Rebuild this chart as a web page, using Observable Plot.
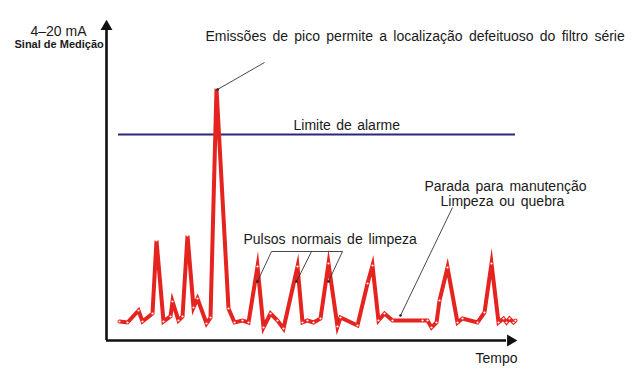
<!DOCTYPE html>
<html>
<head>
<meta charset="utf-8">
<script src="https://cdn.jsdelivr.net/npm/d3@7"></script>
<script src="https://cdn.jsdelivr.net/npm/@observablehq/plot@0.6"></script>
<style>
  html, body { margin: 0; padding: 0; background: #fff; }
  svg { display: block; }
  svg text { word-spacing: 2.2px; }
</style>
</head>
<body>
<div id="chart"></div>
<script>
// Signal trace (time units, signal units above the time axis)
const time   = [13,21,32,36,46,50,57,64,66,72,76,81,87,91,100,104,110,122,128,136,142,151,157,164,171,177,191,196,201,207,214,222,231,234,251,261,266,272,278,286,316,321,325,330,333,341,351,356,371,378,385,392,397,400,403,407,409];
const signal = [19,18,30,19,27,100,19,24,39,20,24,105,33,42,17,23,252,32,18,20,18,74,13,27,20,12,74,18,20,18,22,77,14,23,15,57,75,20,27,20,20,20,13,18,40,73,18,22,18,28,77,18,22,18,22,18,20];

const alarmLevel = 206;
const alarmStart = 12, alarmEnd = 409;

// Axis extents
const timeMax = 404, signalMax = 314;

// Labels
const labels = [
  {t: -76, s: 305, text: "4–20 mA", size: 14, weight: "normal", ws: 0},
  {t: -92, s: 293, text: "Sinal de Medição", size: 11, weight: "bold", ws: 0},
  {t: 99,  s: 300, text: "Emissões de pico permite a localização defeituoso do filtro série", size: 14, weight: "normal", ws: 2.4},
  {t: 187, s: 211, text: "Limite de alarme", size: 14, weight: "normal", ws: 1.5},
  {t: 318, s: 150, text: "Parada para manutenção", size: 14, weight: "normal", ws: 2},
  {t: 334, s: 135, text: "Limpeza ou quebra", size: 14, weight: "normal", ws: 2},
  {t: 137, s: 97,  text: "Pulsos normais de limpeza", size: 14, weight: "normal", ws: 2},
  {t: 369, s: -22, text: "Tempo", size: 14, weight: "normal", ws: 0}
];

// Leader lines
const leaders = [
  {t1: 158, s1: 278, t2: 111, s2: 251},
  {t1: 165, s1: 89,  t2: 236, s2: 89, nodot: true},
  {t1: 165, s1: 89,  t2: 151, s2: 59},
  {t1: 205, s1: 89,  t2: 190, s2: 59},
  {t1: 236, s1: 89,  t2: 222, s2: 59},
  {t1: 346, s1: 133, t2: 294, s2: 25}
];

const trace = time.map((t, i) => ({t, s: signal[i]}));

const marks = [
  Plot.ruleY([alarmLevel], {x1: alarmStart, x2: alarmEnd, stroke: "#2b2878", strokeWidth: 2}),
  Plot.line(trace, {x: "t", y: "s", stroke: "#e5231f", strokeWidth: 4, strokeLinejoin: "miter", strokeMiterlimit: 10}),
  Plot.dot(trace, {x: "t", y: "s", r: 1.1, fill: "#fff", stroke: null}),
  Plot.link(leaders, {x1: "t1", y1: "s1", x2: "t2", y2: "s2", stroke: "#333", strokeWidth: 0.9}),
  Plot.dot(leaders.filter(d => !d.nodot), {x: "t2", y: "s2", r: 1.3, fill: "#222", stroke: null}),
  Plot.ruleX([0], {y1: 0, y2: signalMax - 4, stroke: "#111", strokeWidth: 2.6}),
  Plot.ruleY([0], {x1: 0, x2: timeMax - 4, stroke: "#111", strokeWidth: 2.6}),
  Plot.dot([{t: 0, s: signalMax}], {x: "t", y: "s", symbol: "triangle", r: 4.4, fill: "#111", stroke: null}),
  Plot.dot([{t: timeMax, s: 0}], {x: "t", y: "s", symbol: "triangle", r: 4.4, rotate: 90, fill: "#111", stroke: null}),
  ...labels.map(d => Plot.text([d], {
    x: "t", y: "s", text: "text", textAnchor: "start", lineAnchor: "bottom",
    fontSize: d.size, fontWeight: d.weight, fill: "#1a1a1a"
  }))
];

const chart = Plot.plot({
  width: 635,
  height: 377,
  margin: 0,
  style: {fontFamily: "'Liberation Sans', Arial, sans-serif", background: "#fff"},
  x: {domain: [-106, 529], range: [0, 635], axis: null},
  y: {domain: [-37, 340], range: [377, 0], axis: null},
  marks
});
// per-label word spacing
const wsByText = new Map(labels.map(d => [d.text, d.ws]));
d3.select(chart).selectAll("text").each(function() {
  const ws = wsByText.get(this.textContent);
  if (ws != null) this.style.wordSpacing = ws + "px";
});
document.getElementById("chart").append(chart);
</script>
</body>
</html>
